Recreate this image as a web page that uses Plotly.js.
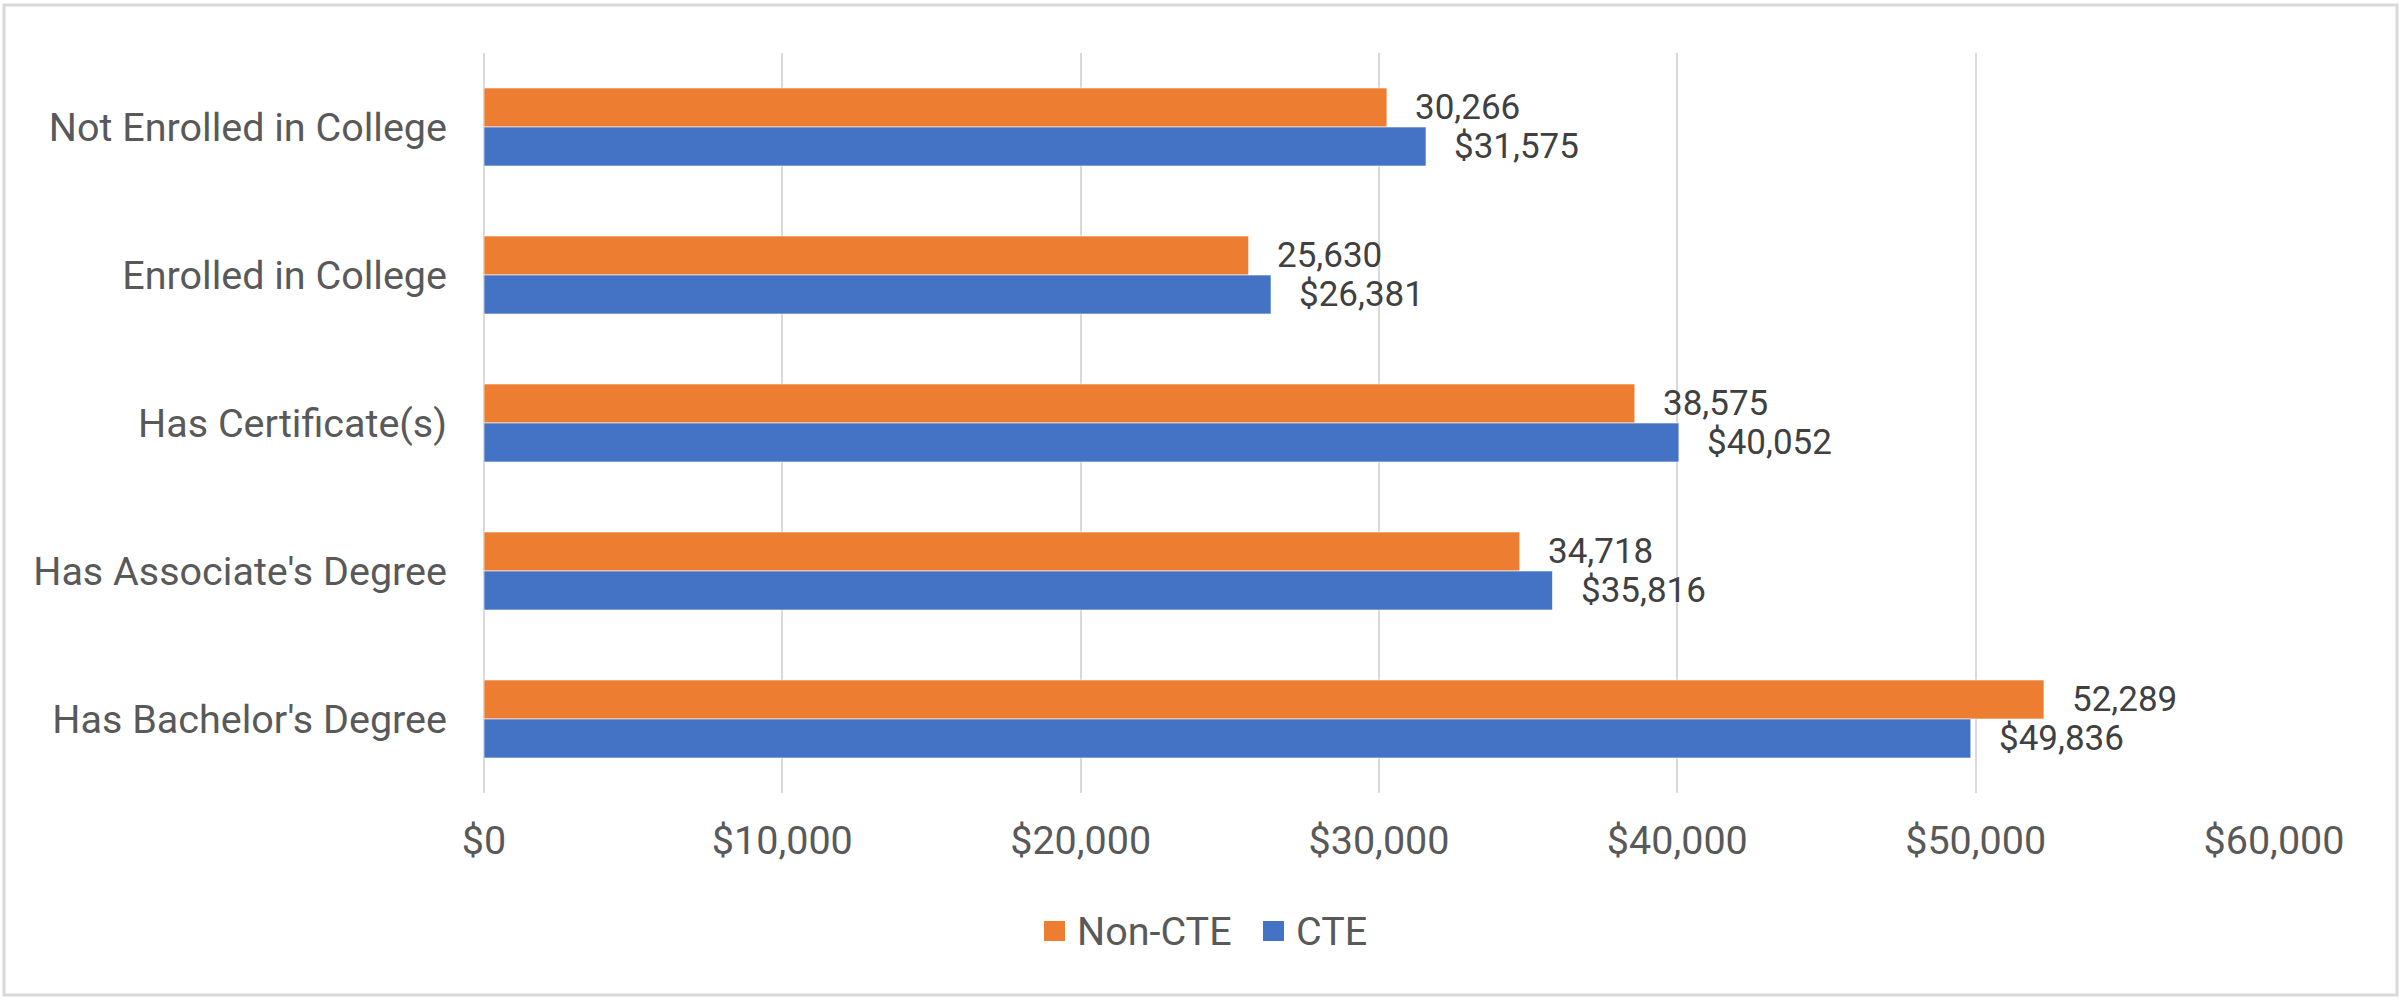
<!DOCTYPE html>
<html>
<head>
<meta charset="utf-8">
<script src="https://cdn.plot.ly/plotly-3.0.1.min.js"></script>
<style>
  html, body { margin: 0; padding: 0; background: #ffffff; }
  #chart { width: 2400px; height: 1000px; }
</style>
</head>
<body>
<div id="chart"></div>
<script>
const categories = [
  "Not Enrolled in College",
  "Enrolled in College",
  "Has Certificate(s)",
  "Has Associate's Degree",
  "Has Bachelor's Degree"
];
const nonCteValues = [30266, 25630, 38575, 34718, 52289];
const cteValues = [31575, 26381, 40052, 35816, 49836];
const seriesNames = ["Non-CTE", "CTE"];
const tickValues = [0, 10000, 20000, 30000, 40000, 50000, 60000];
const tickLabels = ["$0", "$10,000", "$20,000", "$30,000", "$40,000", "$50,000", "$60,000"];

const ORANGE = "#ED7D31";
const BLUE = "#4472C4";
const FONT = "Roboto, 'Noto Sans', Arial, sans-serif";
const AXIS_SIZE = 39.5;
const LABEL_SIZE = 35;

const traces = [
  {
    type: "bar", orientation: "h", name: seriesNames[0],
    y: categories, x: nonCteValues,
    marker: { color: ORANGE, line: { color: "rgba(255,255,255,0.6)", width: 1 } },
    showlegend: false
  },
  {
    type: "bar", orientation: "h", name: seriesNames[1],
    y: categories, x: cteValues,
    marker: { color: BLUE, line: { color: "rgba(255,255,255,0.6)", width: 1 } },
    showlegend: false
  }
];

const fmt = v => v.toLocaleString("en-US");
const annotations = [];
categories.forEach((c, i) => {
  annotations.push({
    x: nonCteValues[i], y: i, xref: "x", yref: "y",
    text: fmt(nonCteValues[i]), showarrow: false,
    xanchor: "left", yanchor: "middle", xshift: 26, yshift: 19.5,
    font: { family: FONT, size: LABEL_SIZE, color: "#404040" }
  });
  annotations.push({
    x: cteValues[i], y: i, xref: "x", yref: "y",
    text: "$" + fmt(cteValues[i]), showarrow: false,
    xanchor: "left", yanchor: "middle", xshift: 26, yshift: -19.5,
    font: { family: FONT, size: LABEL_SIZE, color: "#404040" }
  });
});

const L = 484, R = 126, T = 53, B = 207;
const pw = 2400 - L - R, ph = 1000 - T - B;
const px = v => (v - L) / pw;          // pixel x -> paper x
const py = v => (1000 - B - v) / ph;   // pixel y -> paper y

// manual legend (larger square swatches like the reference)
const legendItems = [
  { name: seriesNames[0], color: ORANGE, sq: 1044, tx: 1075 },
  { name: seriesNames[1], color: BLUE, sq: 1263, tx: 1294 }
];
const legendShapes = legendItems.map(it => ({
  type: "rect", xref: "paper", yref: "paper",
  x0: px(it.sq), x1: px(it.sq + 21), y0: py(941), y1: py(921),
  line: { width: 0 }, fillcolor: it.color
}));
legendItems.forEach(it => annotations.push({
  xref: "paper", yref: "paper", x: px(it.tx), y: py(931),
  text: it.name, showarrow: false, xanchor: "left", yanchor: "middle",
  font: { family: FONT, size: AXIS_SIZE, color: "#595959" }
}));

const layout = {
  width: 2400, height: 1000,
  margin: { l: L, r: R, t: T, b: B, pad: 0 },
  paper_bgcolor: "#ffffff", plot_bgcolor: "#ffffff",
  font: { family: FONT, size: AXIS_SIZE, color: "#595959" },
  barmode: "group",
  bargap: 0.473, bargroupgap: 0,
  showlegend: false,
  xaxis: {
    range: [0, 60000], tickmode: "array", tickvals: tickValues, ticktext: tickLabels,
    showgrid: true, gridcolor: "#d9d9d9", gridwidth: 2,
    zeroline: true, zerolinecolor: "#d9d9d9", zerolinewidth: 2,
    showline: false, ticks: "", ticklabelstandoff: 20,
    tickfont: { family: FONT, size: AXIS_SIZE, color: "#595959" },
    fixedrange: true
  },
  yaxis: {
    type: "category", autorange: "reversed",
    showgrid: false, zeroline: false, showline: false, ticks: "",
    ticklabelstandoff: 36,
    tickfont: { family: FONT, size: AXIS_SIZE, color: "#595959" },
    fixedrange: true
  },
  annotations: annotations,
  shapes: [{
    type: "rect", xref: "paper", yref: "paper",
    x0: px(4), x1: px(2397), y0: py(995), y1: py(5),
    line: { color: "#d9d9d9", width: 3 }, fillcolor: "rgba(0,0,0,0)",
    layer: "below"
  }].concat(legendShapes)
};

Plotly.newPlot("chart", traces, layout, { displayModeBar: false, staticPlot: true });
</script>
</body>
</html>
